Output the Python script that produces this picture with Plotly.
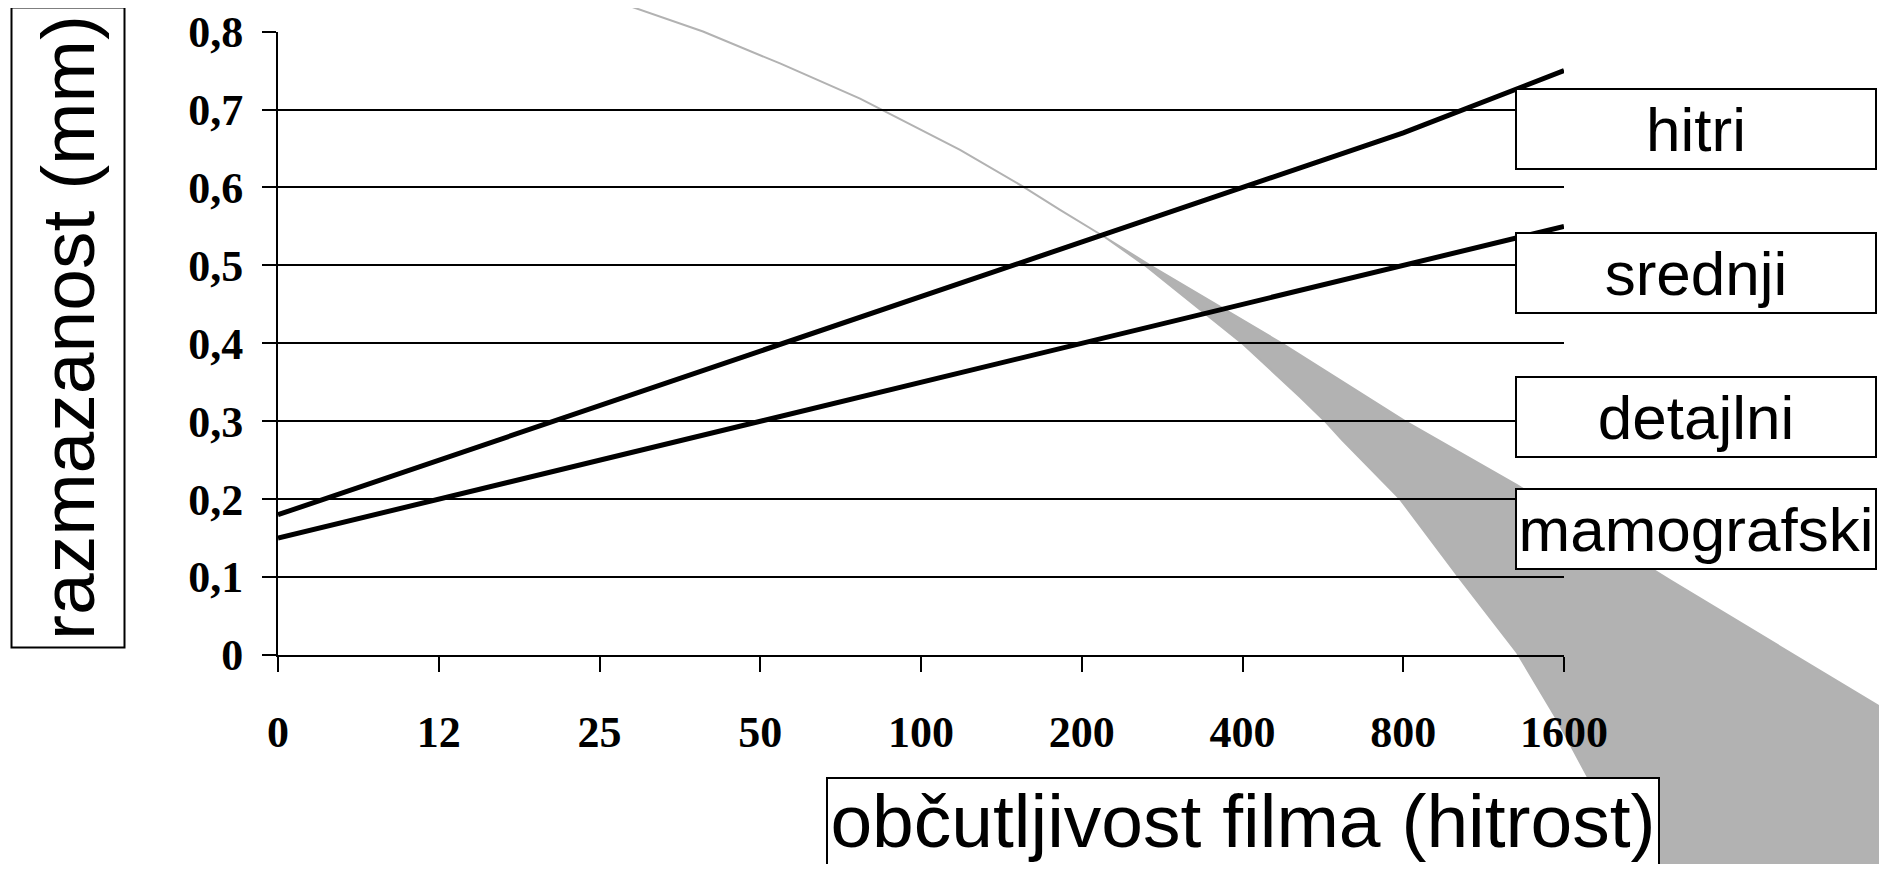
import plotly.graph_objects as go

# ---------------- data ----------------
categories = ["0", "12", "25", "50", "100", "200", "400", "800", "1600"]
hitri = [0.18, 0.25, 0.32, 0.39, 0.46, 0.53, 0.60, 0.67, 0.75]
srednji = [0.15, 0.20, 0.25, 0.30, 0.35, 0.40, 0.45, 0.50, 0.55]

y_tickvals = [0, 0.1, 0.2, 0.3, 0.4, 0.5, 0.6, 0.7, 0.8]
y_ticktext = ["0", "0,1", "0,2", "0,3", "0,4", "0,5", "0,6", "0,7", "0,8"]

film_types = ["hitri", "srednji", "detajlni", "mamografski"]

# grey band (x in category-index units, y in mm)
band_curve_x = [2.084, 2.644, 3.123, 3.621, 4.243, 4.635, 4.865, 5.145]
band_curve_y = [0.840, 0.800, 0.759, 0.714, 0.648, 0.601, 0.571, 0.536]
band_lower_x = [5.393, 6.003, 6.358, 6.513, 6.619, 6.980, 7.341, 7.708, 7.957, 8.149, 8.473]
band_lower_y = [0.500, 0.399, 0.331, 0.300, 0.276, 0.200, 0.101, 0.003, -0.083, -0.157, -0.278]
band_upper_x = [9.978, 9.978, 8.659, 7.708, 7.011, 6.252, 5.425]
band_upper_y = [-0.278, -0.068, 0.096, 0.218, 0.300, 0.399, 0.500]

# ---------------- layout constants ----------------
OFF = 8                            # page body margin
SW, SH = 1887, 872                 # screen size
W, H = SW - 2 * OFF, SH - 2 * OFF  # figure size (no page overflow)
PX0, PX1 = 278, 1564               # plot x pixel extent (screen coords)
PY0, PY1 = 31.5, 655               # plot y pixel extent (top, bottom; screen coords)
YMAX = 0.8
px_per_cat = (PX1 - PX0) / (len(categories) - 1)
px_per_mm = (PY1 - PY0) / YMAX


def fx(px):
    return (px - OFF) / W


def fy(py):
    return 1 - (py - OFF) / H


GRAY = "#b2b2b2"
SERIF = "Liberation Serif"
SANS = "Liberation Sans"

fig = go.Figure()

band_x = band_curve_x + band_lower_x + band_upper_x + band_curve_x[::-1]
band_y = band_curve_y + band_lower_y + band_upper_y + band_curve_y[::-1]
fig.add_trace(go.Scatter(
    x=band_x, y=band_y, xaxis="x", yaxis="y", mode="lines",
    fill="toself", fillcolor=GRAY, line=dict(color=GRAY, width=2),
    hoverinfo="skip", showlegend=False))

for series in (hitri, srednji):
    fig.add_trace(go.Scatter(
        x=categories, y=series, xaxis="x2", yaxis="y2", mode="lines",
        line=dict(color="black", width=5), showlegend=False, cliponaxis=False))

fig.update_layout(
    width=W, height=H,
    margin=dict(l=0, r=0, t=0, b=0, pad=0, autoexpand=False),
    paper_bgcolor="white",
    plot_bgcolor="rgba(0,0,0,0)",
    showlegend=False,
    xaxis=dict(domain=[0, 1],
               range=[-(PX0 - OFF) / px_per_cat, (OFF + W - PX0) / px_per_cat],
               visible=False, fixedrange=True, automargin=False),
    yaxis=dict(domain=[0, 1],
               range=[-(OFF + H - PY1) / px_per_mm, (PY1 - OFF) / px_per_mm],
               visible=False, fixedrange=True, automargin=False),
    xaxis2=dict(domain=[fx(PX0), fx(PX1)], anchor="y2", type="category",
                categoryorder="array", categoryarray=categories,
                range=[0, len(categories) - 1], automargin=False,
                showline=True, linecolor="black", linewidth=2,
                ticks="outside", ticklen=15, tickwidth=1.5, tickcolor="black",
                showgrid=False, zeroline=False,
                tickfont=dict(family=SERIF, size=44, color="black", weight="bold"),
                ticklabelstandoff=22),
    yaxis2=dict(domain=[fy(PY1), fy(PY0)], anchor="x2", range=[0, YMAX * 1.0002],
                tickvals=y_tickvals, ticktext=y_ticktext, automargin=False,
                showline=True, linecolor="black", linewidth=2,
                ticks="outside", ticklen=14, tickwidth=1.5, tickcolor="black",
                showgrid=True, gridcolor="black", gridwidth=1.5, zeroline=False,
                tickfont=dict(family=SERIF, size=44, color="black", weight="bold"),
                ticklabelstandoff=10),
)

annotations = []
# y-axis title box
annotations.append(dict(
    text="razmazanost (mm)", xref="paper", yref="paper",
    x=fx((10 + 125) / 2), y=fy((6 + 650) / 2), xanchor="center", yanchor="middle",
    textangle=-90, showarrow=False, font=dict(family=SANS, size=75, color="black"),
    bordercolor="black", borderwidth=2, borderpad=0, bgcolor="white",
    width=638, height=111, align="center", valign="middle"))
# x-axis title box
annotations.append(dict(
    text="občutljivost filma (hitrost)", xref="paper", yref="paper",
    x=fx(826), y=fy(777), xanchor="left", yanchor="top",
    showarrow=False, font=dict(family=SANS, size=75, color="black"),
    bordercolor="black", borderwidth=2, borderpad=0, bgcolor="white",
    width=830, height=120, align="center", valign="top"))
# film-type boxes
box_centers = [128.5, 273, 417, 529]
for name, cy in zip(film_types, box_centers):
    annotations.append(dict(
        text=name, xref="paper", yref="paper",
        x=fx(1515), y=fy(cy), xanchor="left", yanchor="middle",
        showarrow=False, font=dict(family=SANS, size=62, color="black"),
        bordercolor="black", borderwidth=2, borderpad=0, bgcolor="white",
        width=358, height=78, align="center", valign="middle"))
fig.update_layout(annotations=annotations)

fig.write_html("out.html")
